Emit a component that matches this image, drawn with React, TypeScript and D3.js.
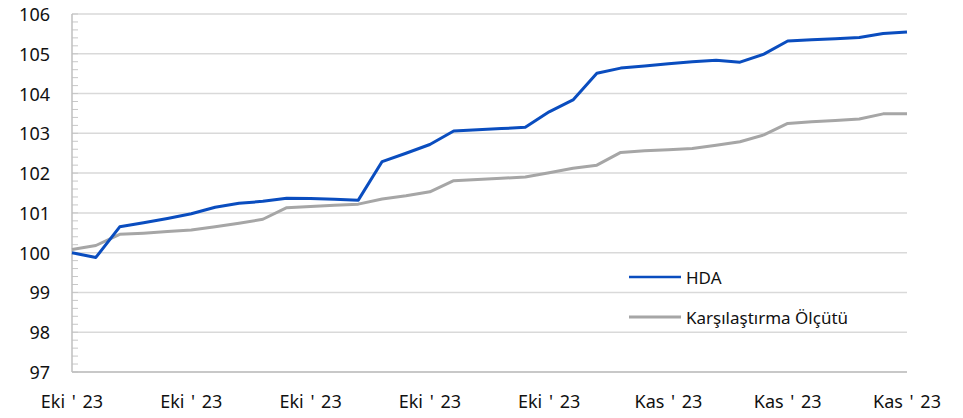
import React from "react";
import * as d3 from "d3";

const xLabels = ["Eki ' 23", "Eki ' 23", "Eki ' 23", "Eki ' 23", "Eki ' 23", "Kas ' 23", "Kas ' 23", "Kas ' 23"];
const yTicks = [97, 98, 99, 100, 101, 102, 103, 104, 105, 106];

const hda = [
  100.0, 99.88, 100.65, 100.75, 100.86, 100.98, 101.14, 101.24, 101.29, 101.37,
  101.36, 101.34, 101.32, 102.29, 102.5, 102.72, 103.06, 103.09, 103.12, 103.15,
  103.54, 103.84, 104.51, 104.64, 104.69, 104.75, 104.8, 104.84, 104.79, 104.99,
  105.32, 105.35, 105.38, 105.41, 105.51, 105.55,
];
const benchmark = [
  100.08, 100.18, 100.46, 100.49, 100.53, 100.57, 100.65, 100.74, 100.84, 101.13,
  101.16, 101.19, 101.22, 101.35, 101.43, 101.53, 101.81, 101.84, 101.87, 101.9,
  102.01, 102.12, 102.2, 102.52, 102.56, 102.59, 102.62, 102.7, 102.79, 102.96,
  103.25, 103.29, 103.32, 103.36, 103.49, 103.49,
];

const seriesNames = ["HDA", "Karşılaştırma Ölçütü"];
const colors = ["#0a4dbf", "#a6a6a6"];

export default function App() {
  const W = 963, H = 418;
  const left = 72, right = 907, top = 14, bottom = 372;
  const n = hda.length;
  const x = d3.scaleLinear().domain([0, n - 1]).range([left, right]);
  const y = d3.scaleLinear().domain([97, 106]).range([bottom, top]);
  const line = d3.line<number>().x((_, i) => x(i)).y((d) => y(d));
  const labelStep = (n - 1) / (xLabels.length - 1);
  const minor = d3.range(97, 106.001, 0.2);
  const font = "'Noto Sans', 'Open Sans', sans-serif";

  return (
    <svg width={W} height={H} style={{ position: "absolute", left: 0, top: 0, background: "#fff" }}>
      {yTicks.map((t) => (
        <line key={"g" + t} x1={left} x2={right} y1={y(t)} y2={y(t)} stroke="#d9d9d9" strokeWidth={1.5} />
      ))}
      {minor.map((t, i) => (
        <line key={"m" + i} x1={left} x2={left + 6} y1={y(t)} y2={y(t)} stroke="#c8c8c8" strokeWidth={1} />
      ))}
      <line x1={left} x2={left} y1={top} y2={bottom} stroke="#bfbfbf" strokeWidth={1.5} />
      <line x1={left} x2={right} y1={bottom} y2={bottom} stroke="#bfbfbf" strokeWidth={1.5} />
      {yTicks.map((t) => (
        <text key={"yl" + t} x={50} y={y(t)} textAnchor="end" dominantBaseline="central"
          fontFamily={font} fontSize={18} fill="#111">{t}</text>
      ))}
      {xLabels.map((l, i) => (
        <text key={"xl" + i} x={x(i * labelStep)} y={408} textAnchor="middle"
          fontFamily={font} fontSize={18} fill="#111" style={{ wordSpacing: "2px" }}>{l}</text>
      ))}
      <path d={line(benchmark) || ""} fill="none" stroke={colors[1]} strokeWidth={3} strokeLinejoin="round" />
      <path d={line(hda) || ""} fill="none" stroke={colors[0]} strokeWidth={3} strokeLinejoin="round" />
      {seriesNames.map((s, i) => (
        <g key={"lg" + i} transform={`translate(0, ${277 + i * 40})`}>
          <line x1={629} x2={681} y1={0} y2={0} stroke={colors[i]} strokeWidth={i === 0 ? 2.5 : 3} />
          <text x={686} y={0} dominantBaseline="central" fontFamily={font} fontSize={17} fill="#111">{s}</text>
        </g>
      ))}
    </svg>
  );
}
